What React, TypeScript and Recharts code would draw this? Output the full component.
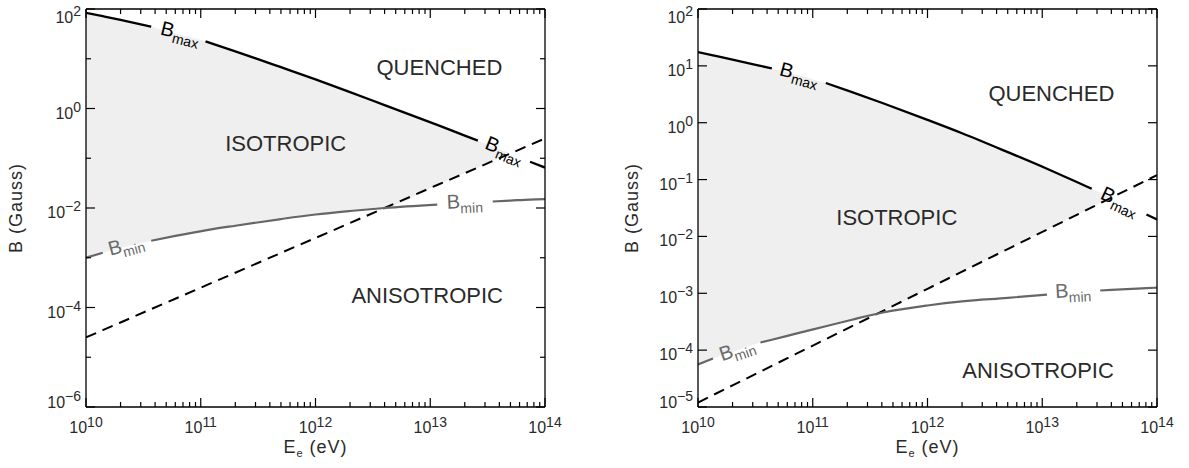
import React from 'react';
import { ComposedChart, Line, Area, XAxis, YAxis, ReferenceLine, ReferenceDot } from 'recharts';

const FONT = '"Liberation Sans", Arial, Helvetica, sans-serif';
const INK = '#2a2a2a';
const PLOT_W = 459;
const PLOT_H = 398;

// ---- left panel ----
const E_LEFT = [1e10, 1.4e10, 2e10, 3.7e10, 6e10, 1.1e11, 2e11, 5e11, 1e12, 2e12, 4e12, 1.15e13, 2e13, 2.6e13, 3.5e13, 5e13, 7.4e13, 1e14];
const BMAX_LEFT = [84, 71.6, 60.3, 44.2, 32.7, 22.4, 14.1, 6.76, 3.85, 2.14, 1.17, 0.468, 0.285, 0.226, 0.172, 0.125, 0.085, 0.065];
const BMIN_LEFT = [1.0e-3, 1.26e-3, 1.58e-3, 2.2e-3, 2.75e-3, 3.55e-3, 4.4e-3, 6.0e-3, 7.4e-3, 8.7e-3, 1.0e-2, 1.17e-2, 1.26e-2, 1.29e-2, 1.35e-2, 1.41e-2, 1.48e-2, 1.51e-2];
const DASH_LEFT = [2.5e-5, 3.5e-5, 5e-5, 9.3e-5, 1.5e-4, 2.75e-4, 5e-4, 1.25e-3, 2.5e-3, 5e-3, 1e-2, 2.9e-2, 5e-2, 6.5e-2, 8.8e-2, 0.125, 0.185, 0.25];
const BMAX_GAPS_LEFT = [[3.7e10, 1.1e11], [2.6e13, 7.4e13]];
const BMIN_GAPS_LEFT = [[1.4e10, 3.7e10], [1.15e13, 3.5e13]];
const SHADE_END_LEFT = 5e13;

// ---- right panel ----
const E_RIGHT = [1e10, 1.35e10, 2e10, 3.5e10, 4.4e10, 7e10, 1.3e11, 2.2e11, 4.1e11, 1e12, 2e12, 5e12, 1.1e13, 2e13, 2.7e13, 3.2e13, 4e13, 6e13, 8.1e13, 1e14];
const BMAX_RIGHT = [17.4, 15.3, 12.9, 10.0, 9.0, 7.1, 5.0, 3.46, 2.2, 1.12, 0.652, 0.304, 0.155, 0.0905, 0.069, 0.0587, 0.048, 0.0324, 0.0243, 0.0198];
const BMIN_RIGHT = [5.6e-5, 7.1e-5, 9.3e-5, 1.36e-4, 1.52e-4, 1.93e-4, 2.63e-4, 3.43e-4, 4.6e-4, 6.1e-4, 7.2e-4, 8.3e-4, 9.5e-4, 1.05e-3, 1.1e-3, 1.12e-3, 1.15e-3, 1.2e-3, 1.23e-3, 1.26e-3];
const DASH_RIGHT = [1.2e-5, 1.62e-5, 2.4e-5, 4.2e-5, 5.3e-5, 8.4e-5, 1.56e-4, 2.64e-4, 4.9e-4, 1.2e-3, 2.4e-3, 6e-3, 1.32e-2, 2.4e-2, 3.24e-2, 3.84e-2, 4.8e-2, 7.2e-2, 9.7e-2, 0.12];
const BMAX_GAPS_RIGHT = [[4.4e10, 1.3e11], [2.7e13, 8.1e13]];
const BMIN_GAPS_RIGHT = [[1.35e10, 3.5e10], [1.1e13, 3.2e13]];
const SHADE_END_RIGHT = 4e13;

// ticks
const X_DECADES = [1e10, 1e11, 1e12, 1e13];
const X_TICKS = [...X_DECADES.flatMap((d) => [1, 2, 3, 4, 5, 6, 7, 8, 9].map((m) => m * d)), 1e14];
const Y_TICKS_LEFT = [1e-6, 1e-5, 1e-4, 1e-3, 1e-2, 1e-1, 1, 10, 100];
const Y_TICKS_RIGHT = [1e-5, 1e-4, 1e-3, 1e-2, 1e-1, 1, 10, 100];

// annotations (data coordinates)
const TAGS_LEFT = [
  { sub: 'max', e: 6.6e10, b: 31, rot: 14, tone: '#000' },
  { sub: 'max', e: 4.4e13, b: 0.14, rot: 22, tone: '#000' },
  { sub: 'min', e: 2.25e10, b: 1.7e-3, rot: -15, tone: '#6a6a6a' },
  { sub: 'min', e: 2e13, b: 1.26e-2, rot: -2.5, tone: '#6a6a6a' },
];
const TAGS_RIGHT = [
  { sub: 'max', e: 7.6e10, b: 6.8, rot: 15, tone: '#000' },
  { sub: 'max', e: 4.7e13, b: 0.04, rot: 25, tone: '#000' },
  { sub: 'min', e: 2.2e10, b: 9.8e-5, rot: -19, tone: '#6a6a6a' },
  { sub: 'min', e: 1.86e13, b: 1.05e-3, rot: -3, tone: '#6a6a6a' },
];
const REGIONS_LEFT = [
  { text: 'QUENCHED', e: 1.2e13, b: 6.8 },
  { text: 'ISOTROPIC', e: 5.5e11, b: 0.2 },
  { text: 'ANISOTROPIC', e: 9.4e12, b: 1.8e-4 },
];
const REGIONS_RIGHT = [
  { text: 'QUENCHED', e: 1.2e13, b: 3.3 },
  { text: 'ISOTROPIC', e: 5.4e11, b: 0.022 },
  { text: 'ANISOTROPIC', e: 9.2e12, b: 4.5e-5 },
];

function buildRows(e: number[], bmax: number[], bmin: number[], dash: number[], bmaxGaps: number[][], bminGaps: number[][], shadeEnd: number) {
  const inGap = (x: number, gaps: number[][]) => gaps.some(([a, b]) => x > a && x < b);
  return e.map((x, i) => {
    const lo = Math.max(bmin[i], dash[i]);
    return {
      e: x,
      bmax: inGap(x, bmaxGaps) ? null : bmax[i],
      bmin: inGap(x, bminGaps) ? null : bmin[i],
      dash: dash[i],
      shade: x <= shadeEnd ? [lo, Math.max(lo, bmax[i])] : null,
    };
  });
}

const expText = (n: number) => (n < 0 ? '\u2212' + -n : String(n));

const XTick = (props: any) => {
  const { x, y, payload } = props;
  const exp = Math.log10(payload.value);
  const major = Math.abs(exp - Math.round(exp)) < 1e-6;
  const len = major ? 9 : 5;
  return (
    <g>
      <line x1={x} y1={y} x2={x} y2={y - len} stroke="#000" strokeWidth={1.2} />
      <line x1={x} y1={y - PLOT_H} x2={x} y2={y - PLOT_H + len} stroke="#000" strokeWidth={1.2} />
      {major && (
        <text x={x} y={y + 26} textAnchor="middle" fontFamily={FONT} fontSize={16} fill={INK}>
          10<tspan dy={-6} fontSize={14}>{expText(Math.round(exp))}</tspan>
        </text>
      )}
    </g>
  );
};

const YTick = (props: any) => {
  const { x, y, payload, labelAll, first, last } = props;
  const exp = Math.round(Math.log10(payload.value));
  const major = labelAll || exp % 2 === 0;
  const len = major ? 9 : 5;
  let base = y + 10;
  if (payload.value === last) base = y + 14;
  if (payload.value === first) base = y + 1;
  return (
    <g>
      <line x1={x} y1={y} x2={x + len} y2={y} stroke="#000" strokeWidth={1.2} />
      <line x1={x + PLOT_W} y1={y} x2={x + PLOT_W - len} y2={y} stroke="#000" strokeWidth={1.2} />
      {major && (
        <text x={x - 5} y={base} textAnchor="end" fontFamily={FONT} fontSize={16} fill={INK}>
          10<tspan dy={-7} fontSize={14}>{expText(exp)}</tspan>
        </text>
      )}
    </g>
  );
};

const XTitle = (props: any) => {
  const vb = props.viewBox || { x: 86, y: 407, width: PLOT_W };
  return (
    <text x={vb.x + vb.width / 2} y={vb.y + 46} textAnchor="middle" fontFamily={FONT} fontSize={18} letterSpacing={1} fill={INK}>
      E<tspan dy={4} fontSize={11}>e</tspan>
      <tspan dy={-4}> (eV)</tspan>
    </text>
  );
};

const YTitle = (props: any) => {
  const vb = props.viewBox || { x: 26, y: 9, width: 60, height: PLOT_H };
  const cx = vb.x + vb.width - props.dist;
  const cy = vb.y + vb.height / 2;
  return (
    <text transform={`translate(${cx},${cy}) rotate(-90)`} y={6} textAnchor="middle" fontFamily={FONT} fontSize={18} letterSpacing={1} fill={INK}>
      B (Gauss)
    </text>
  );
};

const CurveTag = (props: any) => {
  const vb = props.viewBox;
  const cx = vb.x + (vb.width || 0) / 2;
  const cy = vb.y + (vb.height || 0) / 2;
  return (
    <g transform={`translate(${cx},${cy}) rotate(${props.rot})`}>
      <text x={0} y={5} textAnchor="middle" fontFamily={FONT} fontSize={20} fill={props.tone}>
        B<tspan dy={5} fontSize={14}>{props.sub}</tspan>
      </text>
    </g>
  );
};

const RegionTag = (props: any) => {
  const vb = props.viewBox;
  const cx = vb.x + (vb.width || 0) / 2;
  const cy = vb.y + (vb.height || 0) / 2;
  return (
    <text x={cx} y={cy + 8} textAnchor="middle" fontFamily={FONT} fontSize={22} fill={INK}>
      {props.text}
    </text>
  );
};

interface PanelProps {
  rows: any[];
  yTicks: number[];
  labelAll: boolean;
  tags: typeof TAGS_LEFT;
  regions: typeof REGIONS_LEFT;
  width: number;
  marginRight: number;
  titleDist: number;
}

const Panel: React.FC<PanelProps> = ({ rows, yTicks, labelAll, tags, regions, width, marginRight, titleDist }) => {
  const yMin = yTicks[0];
  const yMax = yTicks[yTicks.length - 1];
  return (
    <ComposedChart width={width} height={468} data={rows} margin={{ top: 9, right: marginRight, bottom: 21, left: 26 }}>
      <XAxis
        dataKey="e"
        type="number"
        scale="log"
        domain={[1e10, 1e14]}
        allowDataOverflow
        ticks={X_TICKS}
        interval={0}
        tickSize={0}
        tickMargin={0}
        tickLine={false}
        tick={<XTick />}
        axisLine={{ stroke: '#000', strokeWidth: 1.3 }}
        height={40}
        label={<XTitle />}
      />
      <YAxis
        type="number"
        scale="log"
        domain={[yMin, yMax]}
        allowDataOverflow
        ticks={yTicks}
        interval={0}
        tickSize={0}
        tickMargin={0}
        tickLine={false}
        tick={<YTick labelAll={labelAll} first={yMin} last={yMax} />}
        axisLine={{ stroke: '#000', strokeWidth: 1.3 }}
        width={60}
        label={<YTitle dist={titleDist} />}
      />
      <Area type="monotone" dataKey="shade" stroke="none" fill="#efefef" fillOpacity={1} dot={false} activeDot={false} isAnimationActive={false} />
      <Line type="linear" dataKey="dash" stroke="#000" strokeWidth={2} strokeDasharray="11 7" dot={false} activeDot={false} isAnimationActive={false} />
      <Line type="monotone" dataKey="bmin" stroke="#666" strokeWidth={2.2} dot={false} activeDot={false} isAnimationActive={false} />
      <Line type="monotone" dataKey="bmax" stroke="#000" strokeWidth={2.3} dot={false} activeDot={false} isAnimationActive={false} />
      <ReferenceLine y={yMax} stroke="#000" strokeWidth={1.3} ifOverflow="visible" />
      <ReferenceLine x={1e14} stroke="#000" strokeWidth={1.3} ifOverflow="visible" />
      {tags.map((t, i) => (
        <ReferenceDot key={`t${i}`} x={t.e} y={t.b} r={0} fill="none" stroke="none" label={<CurveTag sub={t.sub} rot={t.rot} tone={t.tone} />} />
      ))}
      {regions.map((r, i) => (
        <ReferenceDot key={`r${i}`} x={r.e} y={r.b} r={0} fill="none" stroke="none" label={<RegionTag text={r.text} />} />
      ))}
    </ComposedChart>
  );
};

export default function App() {
  const left = buildRows(E_LEFT, BMAX_LEFT, BMIN_LEFT, DASH_LEFT, BMAX_GAPS_LEFT, BMIN_GAPS_LEFT, SHADE_END_LEFT);
  const right = buildRows(E_RIGHT, BMAX_RIGHT, BMIN_RIGHT, DASH_RIGHT, BMAX_GAPS_RIGHT, BMIN_GAPS_RIGHT, SHADE_END_RIGHT);
  return (
    <div style={{ position: 'absolute', left: 0, top: 0, width: 1189, height: 468, background: '#fff', fontFamily: FONT }}>
      <div style={{ position: 'absolute', left: 0, top: 0 }}>
        <Panel rows={left} yTicks={Y_TICKS_LEFT} labelAll={false} tags={TAGS_LEFT} regions={REGIONS_LEFT} width={580} marginRight={35} titleDist={70} />
      </div>
      <div style={{ position: 'absolute', left: 612, top: 0 }}>
        <Panel rows={right} yTicks={Y_TICKS_RIGHT} labelAll={true} tags={TAGS_RIGHT} regions={REGIONS_RIGHT} width={577} marginRight={32} titleDist={66} />
      </div>
    </div>
  );
}
